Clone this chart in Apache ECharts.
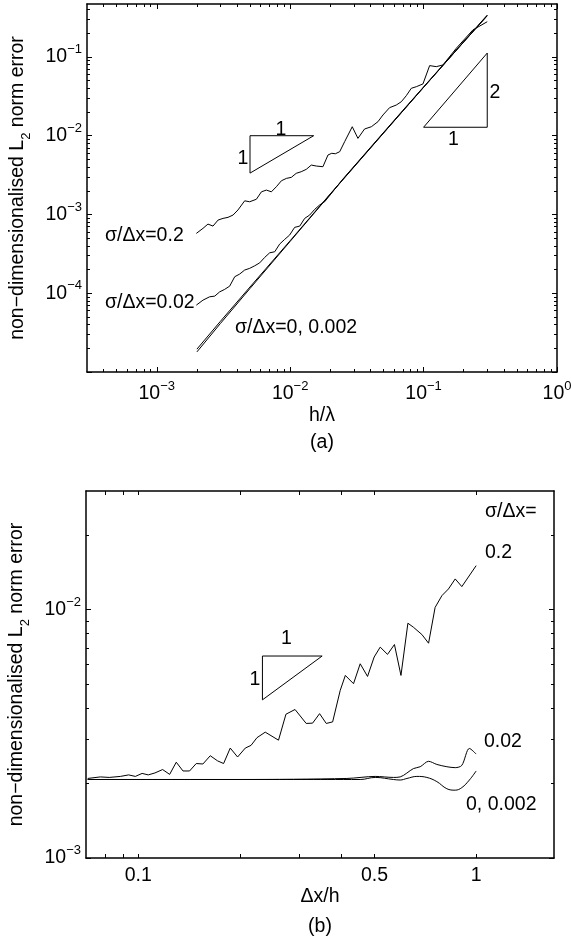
<!DOCTYPE html>
<html><head><meta charset="utf-8">
<script src="https://cdn.jsdelivr.net/npm/echarts@6/dist/echarts.min.js"></script>
<style>html,body{margin:0;padding:0;background:#fff}#c{width:571px;height:944px}</style>
</head><body><div id="c"></div>
<script>
// ---------- DATA: panel (a) ----------
const a_s02_x = [0.00198,0.00222,0.00242,0.00264,0.00288,0.00314,0.00342,0.00373,0.00406,0.00456,0.00497,0.00558,0.00609,0.00663,0.00723,0.00788,0.0086,0.00937,0.0102,0.0111,0.0121,0.0132,0.0144,0.0157,0.0176,0.0192,0.0205,0.0218,0.0235,0.0256,0.0292,0.0322,0.0361,0.0406,0.0455,0.0496,0.0556,0.0624,0.0681,0.0742,0.0809,0.0882,0.0989,0.111,0.1245,0.1397,0.176,0.234,0.3];
const a_s02_y = [5.75e-4,6.66e-4,7.55e-4,7.12e-4,8.49e-4,8.92e-4,9.19e-4,9.83e-4,1.14e-3,1.49e-3,1.45e-3,1.56e-3,1.94e-3,2.04e-3,1.94e-3,2.25e-3,2.68e-3,2.87e-3,2.96e-3,3.33e-3,3.49e-3,3.74e-3,4.24e-3,4.12e-3,4.04e-3,5.69e-3,5.98e-3,5.9e-3,6.26e-3,8.39e-3,0.0130,9.25e-3,0.01217,0.0130,0.01506,0.01832,0.0227,0.0245,0.027,0.0322,0.040,0.0419,0.0454,0.0776,0.0753,0.0791,0.129,0.22,0.28];
const a_s002_x = [0.00198,0.00222,0.00249,0.00272,0.00296,0.00323,0.00352,0.00384,0.00418,0.00456,0.00497,0.00542,0.00591,0.00644,0.00702,0.00766,0.00834,0.0091,0.0099,0.0108,0.0118,0.01284,0.014,0.01526,0.01663,0.01813,0.025,0.04,0.07,0.12,0.2,0.3];
const a_s002_y = [7.06e-5,8.17e-5,9.01e-5,9.19e-5,1.04e-4,1.12e-4,1.23e-4,1.62e-4,1.75e-4,1.97e-4,2.07e-4,2.23e-4,2.43e-4,2.85e-4,3.26e-4,3.36e-4,4.21e-4,4.83e-4,5.47e-4,6.86e-4,7.12e-4,8.92e-4,9.83e-4,1.16e-3,1.32e-3,1.45e-3,2.85e-3,7.1e-3,0.021,0.059,0.157,0.34];
const a_s0_x = [0.002,0.003,0.005,0.01,0.02,0.05,0.1,0.2,0.3];
const a_s0_y = [1.8e-5,4.13e-5,1.15e-4,4.56e-4,1.81e-3,0.01075,0.0411,0.155,0.333];
const a_s0002_y = [1.95e-5,4.4e-5,1.2e-4,4.65e-4,1.83e-3,0.0108,0.0412,0.155,0.335];
const a_tri1 = [[0.005,0.01],[0.015,0.01],[0.005,0.00335],[0.005,0.01]];
const a_tri2 = [[0.1,0.0128],[0.3,0.0128],[0.3,0.112],[0.1,0.0128]];

// ---------- DATA: panel (b) ----------
const b_s02_x = [0.0708,0.0772,0.082,0.0885,0.0936,0.098,0.1026,0.107,0.112,0.118,0.1238,0.1295,0.1356,0.1418,0.1484,0.1553,0.1633,0.1716,0.1788,0.1871,0.1967,0.2073,0.2156,0.2245,0.2375,0.26,0.2735,0.291,0.314,0.328,0.344,0.36,0.376,0.396,0.41,0.4335,0.4537,0.477,0.499,0.52,0.5465,0.573,0.599,0.628,0.652,0.691,0.723,0.756,0.792,0.828,0.867,0.907,1.0];
const b_s02_y = [0.00209,0.00212,0.00211,0.00213,0.00216,0.00213,0.00219,0.00216,0.0022,0.00227,0.00217,0.00243,0.00224,0.00224,0.0024,0.00239,0.00258,0.00246,0.0024,0.00277,0.00255,0.00277,0.00284,0.00305,0.00321,0.00298,0.00379,0.00396,0.00348,0.00349,0.00381,0.00348,0.00353,0.00473,0.00543,0.00503,0.00605,0.00538,0.00644,0.00706,0.0066,0.00723,0.00543,0.00881,0.00849,0.00793,0.00732,0.0102,0.01138,0.0121,0.01328,0.01237,0.01502];
const b_s002_x = [0.0708,0.2,0.4144,0.5026,0.569,0.5958,0.652,0.683,0.723,0.765,0.819,0.867,0.907,0.955,1.0];
const b_s002_y = [0.00207,0.00207,0.00209,0.00213,0.00211,0.00212,0.00229,0.00233,0.00245,0.00238,0.00233,0.00231,0.00236,0.00276,0.00262];
const b_s0_x = [0.0708,0.2,0.4537,0.5026,0.569,0.5958,0.624,0.6675,0.7147,0.765,0.819,0.867,0.907,0.955,1.0];
const b_s0_y = [0.00207,0.00207,0.00207,0.00211,0.00207,0.00206,0.00209,0.00213,0.00211,0.00203,0.0019,0.001875,0.00192,0.00206,0.00224];
const b_tri = [[0.233,0.0065],[0.35,0.0065],[0.233,0.00433],[0.233,0.0065]];

// ---------- TICKS ----------
const a_xMajor = [0.001,0.01,0.1,1];
const a_xMinor = [4e-4,5e-4,6e-4,7e-4,8e-4,9e-4,2e-3,3e-3,4e-3,5e-3,6e-3,7e-3,8e-3,9e-3,0.02,0.03,0.04,0.05,0.06,0.07,0.08,0.09,0.2,0.3,0.4,0.5,0.6,0.7,0.8,0.9];
const a_yMajor = [1e-5,1e-4,1e-3,1e-2,1e-1];
const a_yLabels = [1e-4,1e-3,1e-2,1e-1];
const a_yMinor = [2e-5,3e-5,4e-5,5e-5,6e-5,7e-5,8e-5,9e-5,2e-4,3e-4,4e-4,5e-4,6e-4,7e-4,8e-4,9e-4,2e-3,3e-3,4e-3,5e-3,6e-3,7e-3,8e-3,9e-3,0.02,0.03,0.04,0.05,0.06,0.07,0.08,0.09,0.2,0.3,0.4];
const b_xTicks = [0.08,0.09,0.1,0.2,0.3,0.4,0.5,1];
const b_xLabels = [0.1,0.5,1];
const b_yMajor = [1e-3,1e-2];
const b_yMinor = [2e-3,3e-3,4e-3,5e-3,6e-3,7e-3,8e-3,9e-3,0.02];

const FONT = "'Liberation Sans', Arial, Helvetica, sans-serif";
const FS = 19.5;
const chart = echarts.init(document.getElementById('c'));
const pairs = (xs, ys) => xs.map((x, i) => [x, ys[i]]);
const supFmt = v => { const e = Math.round(Math.log10(v)); return '{b|10}{s|' + (e < 0 ? '\u2212' + (-e) : String(e)) + '}'; };
const richSup = {
  b: {fontSize: FS, lineHeight: 28, fontFamily: FONT, color: '#000'},
  s: {fontSize: 13, lineHeight: 14, verticalAlign: 'top', fontFamily: FONT, color: '#000'}
};
const nameStyle = {fontSize: FS, fontFamily: FONT, color: '#000'};
const yTitle = 'non\u2212dimensionalised L{sub|2} norm error';
const yTitleStyle = {fontSize: FS, fontFamily: FONT, color: '#000', lineHeight: 30,
  rich: {sub: {fontSize: 13, lineHeight: 13, verticalAlign: 'bottom', fontFamily: FONT, color: '#000'}}};

function mkAxis(o) {
  return {
    type: 'log', logBase: 10, gridIndex: o.grid, position: o.pos, min: o.min, max: o.max,
    axisLine: {show: o.line !== false, onZero: false, lineStyle: {color: '#000', width: 1.5}},
    axisTick: {show: true, inside: true, length: o.len, customValues: o.ticks, lineStyle: {color: '#000', width: 1}},
    axisLabel: o.labels ? {show: true, customValues: o.labels, formatter: o.fmt, margin: o.margin,
      rich: o.rich, color: '#000', fontSize: FS, fontFamily: FONT, hideOverlap: false} : {show: false},
    splitLine: {show: false}, minorTick: {show: false}, minorSplitLine: {show: false},
    name: o.name || '', nameLocation: 'middle', nameGap: o.nameGap || 0, nameRotate: o.nameRotate,
    nameTextStyle: o.nameStyle || nameStyle, silent: true
  };
}
const AX = [3e-4, 1], AY = [1e-5, 0.47], BX = [0.07, 1.7], BY = [1e-3, 0.03];
const xAxis = [
  mkAxis({grid:0,pos:'bottom',min:AX[0],max:AX[1],ticks:a_xMajor,len:5,labels:a_xMajor,fmt:supFmt,margin:8,rich:richSup,name:'h/\u03bb',nameGap:34}),
  mkAxis({grid:0,pos:'bottom',min:AX[0],max:AX[1],ticks:a_xMinor,len:3,line:false,name:'(a)',nameGap:61}),
  mkAxis({grid:0,pos:'top',min:AX[0],max:AX[1],ticks:a_xMajor,len:5}),
  mkAxis({grid:0,pos:'top',min:AX[0],max:AX[1],ticks:a_xMinor,len:3,line:false}),
  mkAxis({grid:1,pos:'bottom',min:BX[0],max:BX[1],ticks:b_xTicks,len:4,labels:b_xLabels,fmt:v=>String(Math.round(v*10)/10),margin:8,name:'\u0394x/h',nameGap:29}),
  mkAxis({grid:1,pos:'bottom',min:BX[0],max:BX[1],ticks:b_xTicks,len:4,line:false,name:'(b)',nameGap:59}),
  mkAxis({grid:1,pos:'top',min:BX[0],max:BX[1],ticks:b_xTicks,len:4})
];
const yAxis = [
  mkAxis({grid:0,pos:'left',min:AY[0],max:AY[1],ticks:a_yMajor,len:5,labels:a_yLabels,fmt:supFmt,margin:5,rich:richSup,name:yTitle,nameGap:54,nameRotate:90,nameStyle:yTitleStyle}),
  mkAxis({grid:0,pos:'left',min:AY[0],max:AY[1],ticks:a_yMinor,len:3,line:false}),
  mkAxis({grid:0,pos:'right',min:AY[0],max:AY[1],ticks:a_yMajor,len:5}),
  mkAxis({grid:0,pos:'right',min:AY[0],max:AY[1],ticks:a_yMinor,len:3,line:false}),
  mkAxis({grid:1,pos:'left',min:BY[0],max:BY[1],ticks:b_yMajor,len:5,labels:b_yMajor,fmt:supFmt,margin:5,rich:richSup,name:yTitle,nameGap:54,nameRotate:90,nameStyle:yTitleStyle}),
  mkAxis({grid:1,pos:'left',min:BY[0],max:BY[1],ticks:b_yMinor,len:3,line:false}),
  mkAxis({grid:1,pos:'right',min:BY[0],max:BY[1],ticks:b_yMajor,len:5}),
  mkAxis({grid:1,pos:'right',min:BY[0],max:BY[1],ticks:b_yMinor,len:3,line:false})
];
function line(data, xi, yi, extra) {
  return Object.assign({type: 'line', data: data, xAxisIndex: xi, yAxisIndex: yi, symbol: 'none', showSymbol: false,
    silent: true, animation: false, lineStyle: {color: '#000', width: 1}, itemStyle: {color: '#000'}}, extra || {});
}
const series = [
  line(pairs(a_s02_x, a_s02_y), 0, 0),
  line(pairs(a_s002_x, a_s002_y), 0, 0),
  line(pairs(a_s0_x, a_s0_y), 0, 0),
  line(pairs(a_s0_x, a_s0002_y), 0, 0),
  line(a_tri1, 0, 0),
  line(a_tri2, 0, 0),
  line(pairs(b_s02_x, b_s02_y), 4, 4),
  line(pairs(b_s002_x, b_s002_y), 4, 4, {smooth: 0.3}),
  line(pairs(b_s0_x, b_s0_y), 4, 4, {smooth: 0.4}),
  line(b_tri, 4, 4)
];
const txt = (s, x, y, align) => ({type: 'text', silent: true, style: {text: s, x: x, y: y, fill: '#000',
  font: FS + 'px ' + FONT, align: align || 'left', verticalAlign: 'middle'}});
const graphic = [
  txt('\u03c3/\u0394x=0.2', 105, 236),
  txt('\u03c3/\u0394x=0.02', 105, 303),
  txt('\u03c3/\u0394x=0, 0.002', 235, 328),
  txt('1', 281, 130, 'center'),
  txt('1', 243, 158.5, 'center'),
  txt('2', 495, 92.5, 'center'),
  txt('1', 453.5, 139.5, 'center'),
  txt('1', 286.5, 639, 'center'),
  txt('1', 255, 679.5, 'center'),
  txt('\u03c3/\u0394x=', 485, 511.5),
  txt('0.2', 485, 553),
  txt('0.02', 484, 741.5),
  txt('0, 0.002', 466, 805)
];
chart.setOption({
  animation: false,
  backgroundColor: '#fff',
  textStyle: {fontFamily: FONT},
  grid: [
    {left: 87, top: 4, right: 14, bottom: 572, containLabel: false, outerBoundsMode: 'none'},
    {left: 86, top: 491, right: 17, bottom: 86, containLabel: false, outerBoundsMode: 'none'}
  ],
  xAxis: xAxis, yAxis: yAxis, series: series, graphic: graphic
});
</script></body></html>
